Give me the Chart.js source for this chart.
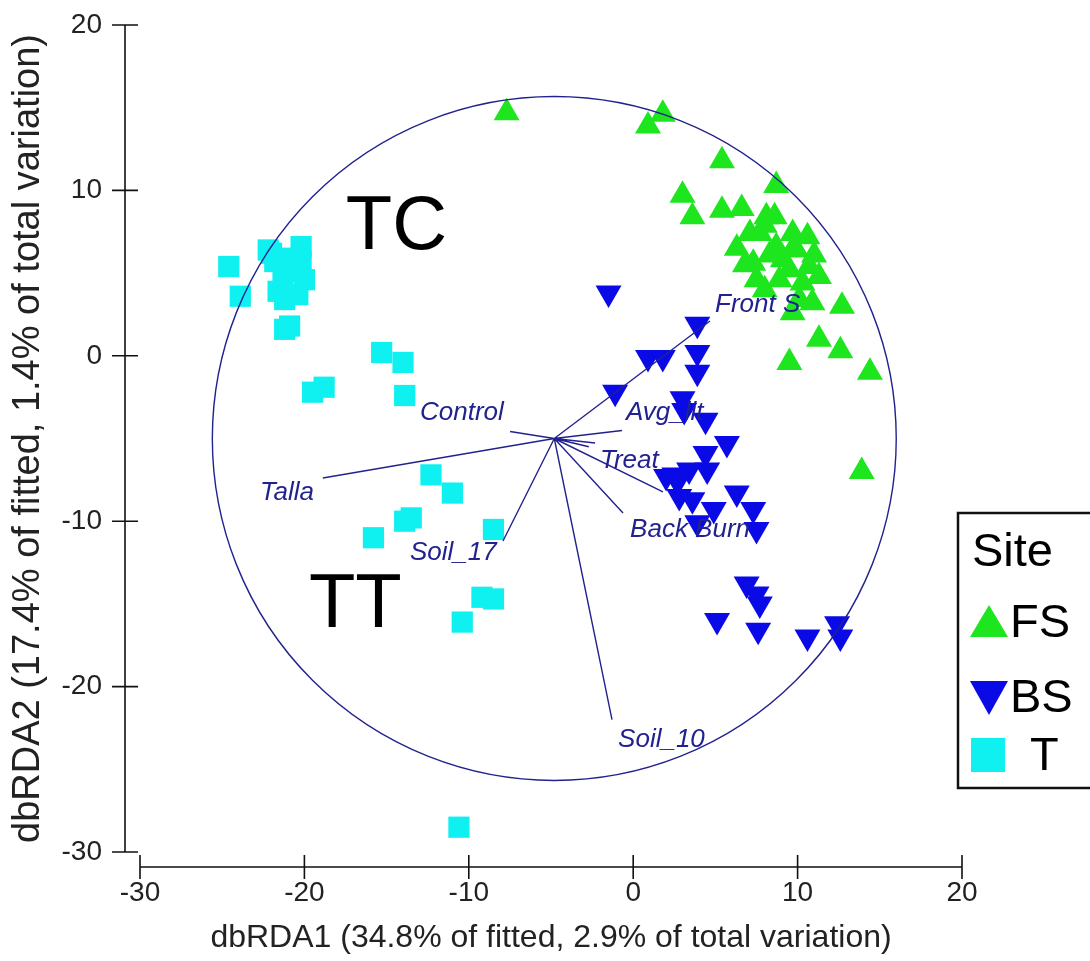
<!DOCTYPE html>
<html>
<head>
<meta charset="utf-8">
<script src="https://cdn.jsdelivr.net/npm/chart.js@4/dist/chart.umd.min.js"></script>
<style>
  body { margin: 0; background: #fff; }
  #wrap { width: 1090px; height: 961px; }
</style>
</head>
<body>
<div id="wrap"><canvas id="rdaChart" width="1090" height="961"></canvas></div>
<script>
// site groups
const fsX = [-7.7, 0.9, 1.8, 5.4, 8.7, 3.0, 3.6, 5.4, 6.6, 8.6, 7.1, 10.6, 6.3, 8.7, 9.9, 7.3, 9.1, 10.7, 11.3, 7.5, 8.9, 10.3, 10.9, 12.7, 9.7, 11.3, 12.6, 9.5, 14.4, 13.9, 7.7, 9.7, 8.1, 8.0, 9.8, 8.3, 9.5, 11.0, 8.0, 6.8, 10.1];
const fsY = [14.7, 13.9, 14.6, 11.8, 10.3, 9.7, 8.4, 8.8, 8.9, 8.4, 7.4, 7.2, 6.5, 6.6, 6.4, 5.6, 5.8, 5.4, 4.8, 4.6, 4.6, 4.4, 3.2, 3.0, 2.6, 1.0, 0.3, -0.4, -1.0, -7.0, 7.4, 7.4, 8.4, 7.9, 6.6, 6.1, 5.2, 6.1, 4.0, 5.5, 3.4];

const bsX = [-1.5, 3.9, 0.9, 1.8, 3.9, 3.9, -1.1, 3.0, 3.1, 4.4, 5.7, 4.4, 4.5, 3.4, 2.0, 2.7, 2.8, 3.6, 6.3, 7.3, 4.9, 3.9, 7.5, 6.9, 7.5, 7.7, 5.1, 7.6, 10.6, 12.4, 12.6, 2.5];
const bsY = [3.8, 1.9, -0.1, -0.1, 0.2, -1.0, -2.2, -2.6, -3.3, -3.9, -5.3, -5.9, -6.9, -6.9, -7.3, -7.6, -8.5, -8.7, -8.3, -9.3, -9.3, -10.1, -10.5, -13.8, -14.4, -15.0, -16.0, -16.6, -17.0, -16.2, -17.0, -7.2];

const tX = [-24.6, -23.9, -22.0, -20.2, -22.2, -21.8, -20.9, -20.2, -21.3, -20.6, -20.0, -21.6, -20.4, -21.2, -21.2, -20.9, -15.3, -14.0, -13.9, -19.5, -18.8, -12.3, -11.0, -13.5, -13.9, -15.8, -8.5, -9.2, -8.5, -10.4, -10.6];
const tY = [5.4, 3.6, 6.2, 6.6, 6.4, 5.7, 5.9, 5.7, 4.9, 5.1, 4.6, 3.9, 3.7, 3.4, 1.6, 1.8, 0.2, -0.4, -2.4, -2.2, -1.9, -7.2, -8.3, -9.8, -10.0, -11.0, -10.5, -14.6, -14.7, -16.1, -28.5];

// predictor vectors (origin + ends) and their labels
const vecOrigin = [-4.8, -5.0];
const vecEndX = [4.67, -7.49, -0.68, -2.32, -2.7, 1.81, -0.62, -18.88, -7.92, -1.29];
const vecEndY = [2.1, -4.58, -4.52, -5.27, -5.5, -8.23, -9.5, -7.39, -11.2, -22.0];
const vecLabels = ["Front S", "Control", "Avg_lit", "Treat", "Back Burn", "Talla", "Soil_17", "Soil_10"];
const vecLabelX = [4.98, -12.97, -0.44, -2.02, -0.19, -22.7, -13.58, -0.92];
const vecLabelY = [3.07, -3.46, -3.46, -6.36, -10.53, -8.3, -11.9, -23.2];
const circleR = 20.8;

// group annotations
const groupText = ["TC", "TT"];
const groupX = [-14.4, -16.9];
const groupY = [7.7, -15.1];

const xTicks = [-30, -20, -10, 0, 10, 20];
const yTicks = [-30, -20, -10, 0, 10, 20];

const toPts = (xs, ys) => xs.map((v, i) => ({ x: v, y: ys[i] }));

const lineCol = "#22228f";
const mainFont = "'Liberation Sans', Arial, sans-serif";

const axesPlugin = {
  id: "primerAxes",
  afterDraw(chart) {
    const { ctx, scales: { x, y } } = chart;
    ctx.save();
    ctx.strokeStyle = "#111";
    ctx.lineWidth = 1.6;
    const ax = x.getPixelForValue(-30) - 15;
    const ay = y.getPixelForValue(-30) + 15;
    ctx.beginPath();
    ctx.moveTo(ax, y.getPixelForValue(20));
    ctx.lineTo(ax, y.getPixelForValue(-30));
    yTicks.forEach(v => {
      const p = y.getPixelForValue(v);
      ctx.moveTo(ax - 13, p);
      ctx.lineTo(ax + 13, p);
    });
    ctx.moveTo(x.getPixelForValue(-30), ay);
    ctx.lineTo(x.getPixelForValue(20), ay);
    xTicks.forEach(v => {
      const p = x.getPixelForValue(v);
      ctx.moveTo(p, ay - 12);
      ctx.lineTo(p, ay + 12);
    });
    ctx.stroke();
    ctx.restore();
  }
};

const overlayPlugin = {
  id: "overlay",
  afterDatasetsDraw(chart) {
    const { ctx, scales: { x, y } } = chart;
    const unit = x.getPixelForValue(1) - x.getPixelForValue(0);
    const ox = x.getPixelForValue(vecOrigin[0]);
    const oy = y.getPixelForValue(vecOrigin[1]);
    ctx.save();
    ctx.strokeStyle = lineCol;
    ctx.lineWidth = 1.4;
    ctx.beginPath();
    ctx.arc(ox, oy, circleR * unit, 0, Math.PI * 2);
    ctx.stroke();
    ctx.beginPath();
    vecEndX.forEach((v, i) => {
      ctx.moveTo(ox, oy);
      ctx.lineTo(x.getPixelForValue(v), y.getPixelForValue(vecEndY[i]));
    });
    ctx.stroke();

    ctx.fillStyle = lineCol;
    ctx.font = "italic 26px " + mainFont;
    ctx.textAlign = "left";
    ctx.textBaseline = "middle";
    vecLabels.forEach((t, i) => {
      ctx.fillText(t, x.getPixelForValue(vecLabelX[i]), y.getPixelForValue(vecLabelY[i]));
    });

    ctx.fillStyle = "#000";
    ctx.font = "76px " + mainFont;
    ctx.textAlign = "center";
    groupText.forEach((t, i) => {
      ctx.fillText(t, x.getPixelForValue(groupX[i]), y.getPixelForValue(groupY[i]));
    });
    ctx.restore();
  }
};

const legendPlugin = {
  id: "siteLegend",
  afterDraw(chart) {
    const { ctx } = chart;
    ctx.save();
    ctx.fillStyle = "#fff";
    ctx.fillRect(958, 513, 140, 275);
    ctx.strokeStyle = "#111";
    ctx.lineWidth = 2.5;
    ctx.strokeRect(958, 513, 140, 275);
    ctx.fillStyle = "#000";
    ctx.font = "47px " + mainFont;
    ctx.textBaseline = "middle";
    ctx.textAlign = "left";
    ctx.fillText("Site", 972, 553);
    const rows = [622, 697, 755];
    chart.data.datasets.forEach((ds, i) => {
      const cy = rows[i];
      ctx.fillStyle = ds.backgroundColor;
      ctx.beginPath();
      if (ds.pointStyle === "rect") {
        ctx.rect(971, cy - 17, 34, 34);
      } else if (ds.pointRotation === 180) {
        ctx.moveTo(970, cy - 16);
        ctx.lineTo(1008, cy - 16);
        ctx.lineTo(989, cy + 18);
      } else {
        ctx.moveTo(970, cy + 15);
        ctx.lineTo(1008, cy + 15);
        ctx.lineTo(989, cy - 17);
      }
      ctx.fill();
      ctx.fillStyle = "#000";
      ctx.fillText(ds.label, ds.label === "T" ? 1030 : 1010, cy + 2);
    });
    ctx.restore();
  }
};

new Chart(document.getElementById("rdaChart"), {
  type: "scatter",
  data: {
    datasets: [
      { label: "FS", data: toPts(fsX, fsY), pointStyle: "triangle", pointRadius: 15, backgroundColor: "#1ee61e", borderColor: "#1ee61e", borderWidth: 0 },
      { label: "BS", data: toPts(bsX, bsY), pointStyle: "triangle", pointRotation: 180, pointRadius: 15, backgroundColor: "#0a0ae6", borderColor: "#0a0ae6", borderWidth: 0 },
      { label: "T", data: toPts(tX, tY), pointStyle: "rect", pointRadius: 15, backgroundColor: "#0ff0f0", borderColor: "#0ff0f0", borderWidth: 0 }
    ]
  },
  options: {
    responsive: false,
    animation: false,
    layout: { padding: { top: 25, right: 128, left: 0, bottom: 0 } },
    plugins: { legend: { display: false }, tooltip: { enabled: false } },
    scales: {
      x: {
        type: "linear", min: -30, max: 20,
        afterBuildTicks: s => { s.ticks = xTicks.map(v => ({ value: v })); },
        afterFit: s => { s.height = 109; s.paddingLeft = 0; s.paddingRight = 0; },
        grid: { display: false, drawTicks: false },
        border: { display: false },
        ticks: { color: "#222", padding: 24, font: { family: mainFont, size: 28 } },
        title: { display: true, text: "dbRDA1 (34.8% of fitted, 2.9% of total variation)", color: "#222", font: { family: mainFont, size: 32 }, padding: { top: 0, bottom: 4 } }
      },
      y: {
        type: "linear", min: -30, max: 20,
        afterBuildTicks: s => { s.ticks = yTicks.map(v => ({ value: v })); },
        afterFit: s => { s.width = 140; s.paddingTop = 0; s.paddingBottom = 0; },
        grid: { display: false, drawTicks: false },
        border: { display: false },
        ticks: { color: "#222", padding: 38, font: { family: mainFont, size: 28 } },
        title: { display: true, text: "dbRDA2 (17.4% of fitted, 1.4% of total variation)", color: "#222", font: { family: mainFont, size: 38 }, padding: { top: 6, bottom: 0 } }
      }
    }
  },
  plugins: [axesPlugin, overlayPlugin, legendPlugin]
});
</script>
</body>
</html>
